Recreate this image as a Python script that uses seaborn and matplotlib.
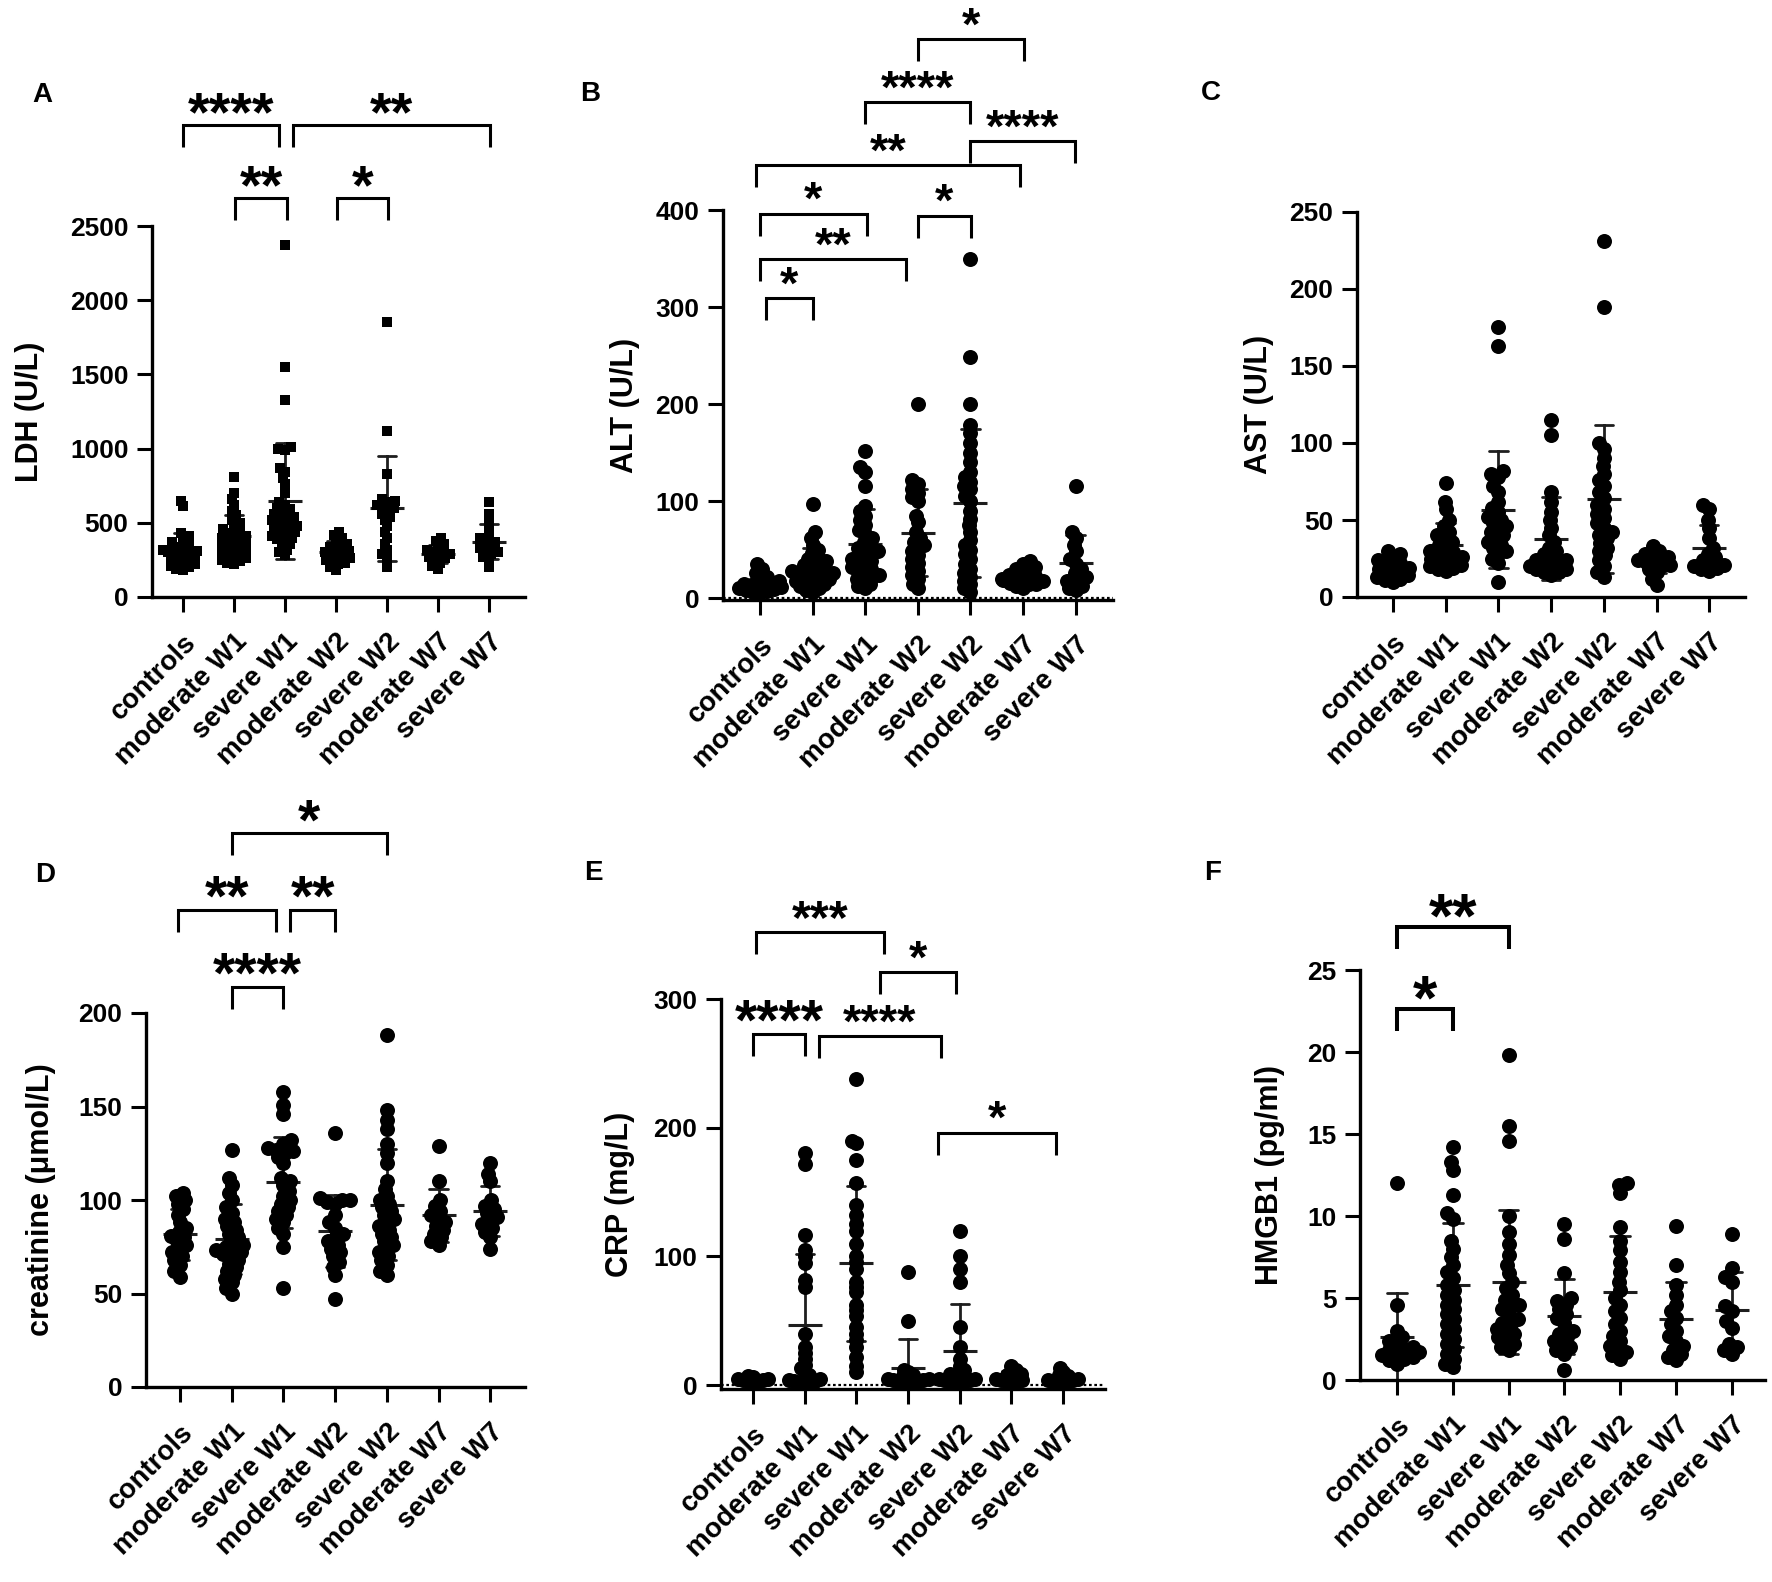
import warnings
warnings.filterwarnings("ignore")
import numpy as np
import pandas as pd
import matplotlib
matplotlib.use("Agg")
import matplotlib.pyplot as plt
import seaborn as sns

GROUPS = ["controls", "moderate W1", "severe W1", "moderate W2",
          "severe W2", "moderate W7", "severe W7"]

# ---------------- A: LDH (U/L) ----------------
LDH_CONTROLS = [650, 610, 430, 410, 390, 370, 350, 340, 330, 320, 310, 300, 300, 290,
                280, 270, 260, 250, 240, 230, 220, 210, 200, 190, 180]
LDH_MOD_W1 = [810, 700, 660, 620, 580, 550, 520, 500, 480, 460, 440, 430, 420, 410, 400,
              390, 380, 370, 360, 350, 340, 330, 320, 310, 300, 290, 280, 270, 260, 250,
              240, 230, 220]
LDH_SEV_W1 = [2370, 1550, 1330, 1010, 1000, 990, 870, 840, 800, 760, 700, 640, 620, 600,
              590, 570, 560, 550, 540, 530, 520, 510, 500, 490, 480, 470, 460, 450, 440,
              430, 420, 410, 400, 390, 380, 360, 340, 320, 300, 280]
LDH_MOD_W2 = [440, 420, 400, 380, 360, 340, 330, 320, 310, 300, 290, 280, 270, 260, 250,
              240, 230, 220, 200, 180]
LDH_SEV_W2 = [1850, 1120, 830, 660, 650, 640, 620, 610, 600, 580, 560, 540, 520, 480,
              440, 400, 360, 320, 290, 260, 200]
LDH_MOD_W7 = [400, 380, 360, 340, 320, 310, 300, 290, 280, 270, 260, 250, 230, 210, 190]
LDH_SEV_W7 = [640, 560, 500, 430, 400, 390, 370, 350, 330, 310, 300, 290, 270, 250, 200]

# ---------------- B: ALT (U/L) ----------------
ALT_CONTROLS = [35, 30, 26, 22, 20, 18, 16, 15, 14, 13, 12, 11, 10, 9, 8, 7, 6, 5]
ALT_MOD_W1 = [97, 68, 62, 55, 50, 46, 42, 40, 38, 36, 34, 32, 30, 28, 27, 26, 25, 24, 23,
              22, 20, 19, 18, 16, 15, 14, 12, 10, 8, 6]
ALT_SEV_W1 = [152, 135, 130, 115, 95, 90, 85, 80, 75, 70, 66, 62, 58, 55, 52, 50, 48, 46,
              44, 42, 40, 38, 36, 34, 32, 30, 28, 26, 24, 22, 20, 18, 15, 12, 10]
ALT_MOD_W2 = [200, 122, 118, 112, 108, 104, 100, 85, 78, 68, 62, 58, 55, 52, 48, 44, 40,
              36, 32, 28, 24, 20, 15, 10]
ALT_SEV_W2 = [350, 248, 200, 178, 170, 160, 150, 140, 130, 125, 120, 115, 112, 105, 100,
              90, 82, 75, 68, 60, 55, 50, 45, 40, 35, 30, 26, 22, 18, 14, 10, 6]
ALT_MOD_W7 = [38, 35, 32, 30, 28, 26, 24, 23, 22, 21, 20, 19, 18, 17, 16, 15, 14, 12, 10]
ALT_SEV_W7 = [115, 68, 62, 55, 48, 40, 35, 30, 26, 22, 20, 18, 15, 12, 10, 8]

# ---------------- C: AST (U/L) ----------------
AST_CONTROLS = [30, 28, 26, 24, 22, 21, 20, 19, 18, 17, 16, 15, 14, 13, 12, 11, 10]
AST_MOD_W1 = [74, 62, 57, 50, 46, 42, 40, 38, 36, 34, 32, 30, 29, 28, 27, 26, 25, 24, 23,
              22, 21, 20, 19, 18, 17]
AST_SEV_W1 = [175, 163, 82, 80, 78, 72, 68, 62, 58, 55, 52, 50, 48, 46, 44, 42, 40, 38,
              36, 34, 32, 30, 28, 25, 22, 10]
AST_MOD_W2 = [115, 105, 68, 62, 55, 50, 45, 40, 36, 32, 30, 28, 26, 24, 24, 22, 22, 20,
              20, 18, 18, 16, 16, 14]
AST_SEV_W2 = [231, 188, 100, 96, 90, 85, 80, 76, 72, 68, 64, 60, 57, 54, 51, 48, 45, 42,
              40, 38, 35, 32, 30, 27, 24, 20, 16, 13]
AST_MOD_W7 = [33, 30, 28, 27, 26, 25, 24, 23, 22, 21, 20, 18, 16, 12, 8]
AST_SEV_W7 = [60, 57, 50, 45, 38, 32, 28, 26, 24, 22, 21, 20, 19, 18, 17]

# ---------------- D: creatinine (umol/L) ----------------
CREA_CONTROLS = [104, 102, 100, 98, 95, 92, 88, 85, 83, 81, 80, 78, 76, 74, 72, 70, 68,
                 65, 62, 59]
CREA_MOD_W1 = [127, 112, 108, 104, 100, 96, 93, 90, 88, 86, 84, 82, 80, 78, 76, 75, 74,
               73, 72, 71, 70, 68, 66, 64, 62, 60, 58, 56, 53, 50]
CREA_SEV_W1 = [158, 151, 146, 132, 130, 128, 127, 126, 125, 123, 120, 112, 110, 108, 105,
               102, 100, 98, 96, 94, 92, 90, 88, 85, 82, 75, 53]
CREA_MOD_W2 = [136, 101, 100, 100, 99, 98, 92, 88, 85, 82, 80, 78, 76, 74, 72, 70, 67, 64,
               60, 47]
CREA_SEV_W2 = [188, 148, 143, 138, 130, 125, 120, 110, 106, 102, 100, 98, 96, 94, 92, 90,
               88, 86, 84, 82, 80, 78, 76, 74, 72, 70, 68, 65, 62, 60]
CREA_MOD_W7 = [129, 110, 100, 97, 94, 92, 90, 88, 86, 84, 82, 80, 78, 76]
CREA_SEV_W7 = [120, 114, 110, 100, 97, 95, 93, 91, 89, 87, 85, 83, 80, 74]

# ---------------- E: CRP (mg/L) ----------------
CRP_CONTROLS = [7, 6, 5, 5, 4, 4, 3, 3, 2]
CRP_MOD_W1 = [180, 172, 117, 105, 100, 95, 82, 76, 40, 30, 25, 20, 16, 13, 10, 8, 6, 5,
              4, 3, 3, 2, 2, 2]
CRP_SEV_W1 = [238, 190, 188, 175, 157, 140, 132, 125, 120, 110, 100, 96, 90, 80, 76, 72,
              62, 58, 54, 45, 40, 35, 30, 22, 15, 10]
CRP_MOD_W2 = [88, 50, 12, 10, 8, 7, 6, 5, 5, 4, 4, 3, 3, 2, 2, 2]
CRP_SEV_W2 = [120, 100, 90, 80, 45, 30, 20, 15, 12, 10, 9, 8, 7, 6, 5, 5, 4, 4, 3, 3, 2, 2]
CRP_MOD_W7 = [15, 12, 10, 9, 8, 7, 6, 5, 4, 4, 3, 3, 2]
CRP_SEV_W7 = [13, 10, 8, 7, 6, 5, 4, 4, 3, 3, 2, 2]

# ---------------- F: HMGB1 (pg/ml) ----------------
HMGB1_CONTROLS = [12.0, 4.6, 3.0, 2.6, 2.4, 2.2, 2.0, 1.9, 1.8, 1.7, 1.6, 1.5, 1.4, 1.3,
                  1.2, 1.0]
HMGB1_MOD_W1 = [14.2, 13.3, 12.8, 11.3, 10.2, 9.8, 8.5, 8.0, 7.5, 7.0, 6.6, 6.2, 5.8, 5.5,
                5.2, 4.9, 4.6, 4.3, 4.0, 3.7, 3.4, 3.1, 2.8, 2.5, 2.2, 1.9, 1.6, 1.3, 1.0,
                0.8]
HMGB1_SEV_W1 = [19.8, 15.5, 14.6, 10.0, 9.0, 8.3, 7.6, 7.0, 6.5, 6.0, 5.6, 5.2, 4.9, 4.6,
                4.5, 4.3, 4.0, 3.7, 3.5, 3.4, 3.1, 3.0, 2.8, 2.6, 2.5, 2.2, 2.0, 1.8]
HMGB1_MOD_W2 = [9.5, 8.6, 6.5, 5.0, 4.8, 4.6, 4.3, 4.0, 3.8, 3.5, 3.0, 2.8, 2.6, 2.4, 2.2,
                2.0, 1.8, 1.6, 0.6]
HMGB1_SEV_W2 = [12.0, 11.9, 11.4, 9.3, 8.5, 7.9, 7.2, 6.6, 6.0, 5.5, 5.0, 4.6, 4.2, 3.8,
                3.4, 3.0, 2.7, 2.4, 2.1, 1.9, 1.7, 1.5, 1.3]
HMGB1_MOD_W7 = [9.4, 7.0, 5.8, 5.2, 4.6, 4.2, 3.8, 3.4, 3.0, 2.7, 2.4, 2.1, 1.8, 1.6, 1.4,
                1.2]
HMGB1_SEV_W7 = [8.9, 6.8, 6.3, 6.0, 4.5, 4.2, 3.6, 3.2, 2.2, 2.0, 1.8, 1.6]

# significance brackets: (from group pos, to group pos, bar height, label, star size)
LDH_BRACKETS = [(0, 1.88, 3181, "****", 40), (2.16, 6.02, 3181, "**", 40),
                (1.02, 2.04, 2689, "**", 40), (3.02, 4.02, 2689, "*", 40)]
ALT_BRACKETS = [(3.0, 5.02, 576, "*", 34), (2.0, 3.99, 511, "****", 34),
                (3.99, 5.99, 471, "****", 34), (-0.08, 4.94, 446, "**", 34),
                (0.0, 2.03, 396, "*", 34), (3.0, 4.01, 394, "*", 34),
                (0.0, 2.78, 349, "**", 34), (0.11, 1.0, 309, "*", 34)]
CREA_BRACKETS = [(1.0, 4.0, 296, "*", 41), (-0.04, 1.86, 255, "**", 41),
                 (2.13, 3.0, 255, "**", 41), (1.0, 1.99, 214, "****", 41)]
CRP_BRACKETS = [(0.05, 2.53, 352, "***", 35), (2.46, 3.93, 321, "*", 34),
                (0.0, 1.0, 273, "****", 41), (1.28, 3.63, 271, "****", 34),
                (3.58, 5.86, 196, "*", 34)]
HMGB1_BRACKETS = [(0, 2.0, 27.6, "**", 45), (0, 1.0, 22.6, "*", 45)]

sns.set_theme(style="ticks")
plt.rcParams["font.family"] = ["Liberation Sans", "DejaVu Sans"]
plt.rcParams["font.weight"] = "bold"
plt.rcParams["axes.labelweight"] = "bold"

W, H, DPI = 1772, 1582, 100
fig = plt.figure(figsize=(W / DPI, H / DPI), dpi=DPI)
fig.patch.set_facecolor("white")

SWARMS = []


def make_panel(box, xlim, values, ylabel, ylim, yticks, ylabel_px, brackets,
               marker="o", layout_size=5.6, show_size=10.8, zero_line=False,
               bracket_lw=2.2):
    L, R, T, B = box
    ax = fig.add_axes([L / W, 1 - B / H, (R - L) / W, (B - T) / H])
    ax.set_facecolor("white")
    df = pd.DataFrame({
        "group": np.repeat(GROUPS, [len(v) for v in values]),
        "value": np.concatenate([np.asarray(v, float) for v in values]),
    })
    n0 = len(ax.collections)
    sns.swarmplot(data=df, x="group", y="value", order=GROUPS, color="black",
                  marker=marker, size=layout_size, linewidth=0, ax=ax,
                  warn_thresh=1.0)
    SWARMS.append((list(ax.collections[n0:]), show_size))
    sns.pointplot(data=df, x="group", y="value", order=GROUPS, errorbar="sd",
                  capsize=0.35, color="#1e1e1e", marker="_", markersize=24,
                  markeredgewidth=2.2, linestyle="none",
                  err_kws={"linewidth": 2.0}, ax=ax)
    ax.set_xlim(*xlim)
    ax.set_ylim(*ylim)
    ax.set_yticks(yticks)
    ax.set_xlabel("")
    ax.set_ylabel(ylabel, fontsize=22, fontweight="bold", color="black")
    ax.yaxis.set_label_coords((ylabel_px - L) / (R - L), 0.5)
    sns.despine(ax=ax)
    for s in ("left", "bottom"):
        ax.spines[s].set_linewidth(2.4)
        ax.spines[s].set_color("black")
    ax.tick_params(axis="both", which="major", direction="out", length=11,
                   width=2.2, color="black", labelcolor="black")
    ax.tick_params(axis="y", labelsize=19, pad=6)
    ax.tick_params(axis="x", labelsize=20, pad=12)
    for lab in ax.get_xticklabels():
        lab.set_rotation(45)
        lab.set_ha("right")
        lab.set_va("top")
        lab.set_rotation_mode("anchor")
        lab.set_fontweight("bold")
    for lab in ax.get_yticklabels():
        lab.set_fontweight("bold")
    if zero_line:
        ax.axhline(0, color="black", lw=1.6, ls=(0, (1.2, 1.2)), zorder=0.5)
    upp = (ylim[1] - ylim[0]) / (B - T)
    leg = 22 * upp
    for x1, x2, y, label, fs in brackets:
        ax.plot([x1, x1, x2, x2], [y - leg, y, y, y - leg], color="black",
                lw=bracket_lw, clip_on=False, solid_joinstyle="miter",
                solid_capstyle="butt")
        ax.annotate(label, xy=((x1 + x2) / 2, y), xytext=(0, 19 - 0.565 * fs),
                    textcoords="offset points", ha="center", va="baseline",
                    fontsize=fs, fontweight="bold", color="black",
                    annotation_clip=False)
    return ax


make_panel((152, 525, 226, 597), (-0.608, 6.706),
           [LDH_CONTROLS, LDH_MOD_W1, LDH_SEV_W1, LDH_MOD_W2, LDH_SEV_W2,
            LDH_MOD_W7, LDH_SEV_W7],
           "LDH (U/L)", (0, 2500), [0, 500, 1000, 1500, 2000, 2500], 45,
           LDH_BRACKETS, marker="s", layout_size=4.6, show_size=7.4)
make_panel((723, 1113, 210, 600), (-0.703, 6.711),
           [ALT_CONTROLS, ALT_MOD_W1, ALT_SEV_W1, ALT_MOD_W2, ALT_SEV_W2,
            ALT_MOD_W7, ALT_SEV_W7],
           "ALT (U/L)", (-2, 400), [0, 100, 200, 300, 400], 640,
           ALT_BRACKETS, layout_size=5.0, zero_line=True)
make_panel((1357, 1745, 212, 597), (-0.683, 6.679),
           [AST_CONTROLS, AST_MOD_W1, AST_SEV_W1, AST_MOD_W2, AST_SEV_W2,
            AST_MOD_W7, AST_SEV_W7],
           "AST (U/L)", (0, 250), [0, 50, 100, 150, 200, 250], 1274, [])
make_panel((146, 525, 1013, 1387), (-0.658, 6.673),
           [CREA_CONTROLS, CREA_MOD_W1, CREA_SEV_W1, CREA_MOD_W2, CREA_SEV_W2,
            CREA_MOD_W7, CREA_SEV_W7],
           "creatinine (μmol/L)", (0, 200), [0, 50, 100, 150, 200], 56,
           CREA_BRACKETS)
make_panel((721, 1105, 999, 1389), (-0.619, 6.809),
           [CRP_CONTROLS, CRP_MOD_W1, CRP_SEV_W1, CRP_MOD_W2, CRP_SEV_W2,
            CRP_MOD_W7, CRP_SEV_W7],
           "CRP (mg/L)", (-3, 300), [0, 100, 200, 300], 635, CRP_BRACKETS,
           layout_size=3.6, zero_line=True)
make_panel((1360, 1765, 970, 1380), (-0.663, 6.595),
           [HMGB1_CONTROLS, HMGB1_MOD_W1, HMGB1_SEV_W1, HMGB1_MOD_W2,
            HMGB1_SEV_W2, HMGB1_MOD_W7, HMGB1_SEV_W7],
           "HMGB1 (pg/ml)", (0, 25), [0, 5, 10, 15, 20, 25], 1285,
           HMGB1_BRACKETS, layout_size=6.0, bracket_lw=2.9)

for letter, (px, py) in zip("ABCDEF", [(42, 95), (590, 94), (1211, 93),
                                       (45, 875), (593, 873), (1213, 873)]):
    fig.text(px / W, 1 - py / H, letter, fontsize=20, fontweight="bold",
             ha="center", va="center", color="black")

# compute the swarm layout with small points, then show larger (overlapping) dots
fig.canvas.draw()
for colls, sz in SWARMS:
    for c in colls:
        if "draw" in c.__dict__:
            del c.draw
        c.set_sizes([sz ** 2])

fig.savefig("out.png", dpi=DPI, facecolor="white")
